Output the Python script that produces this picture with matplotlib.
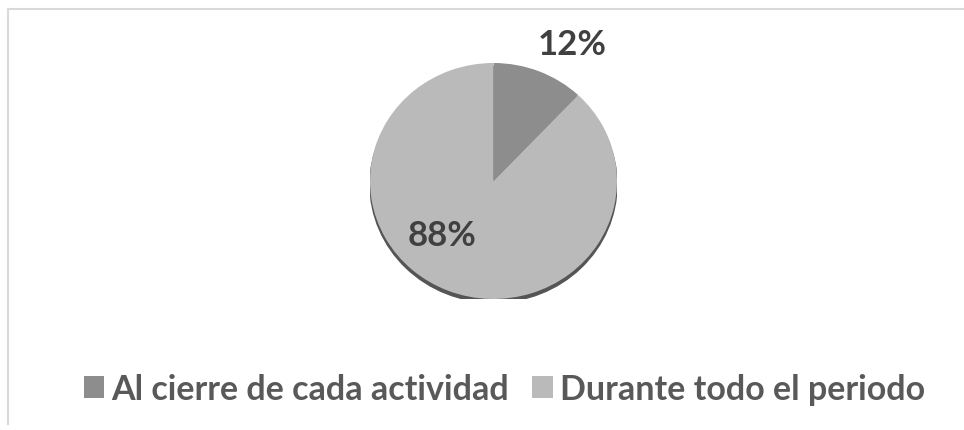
import matplotlib.pyplot as plt
from matplotlib.patches import Ellipse

plt.rcParams["font.family"] = ["Lato", "DejaVu Sans"]

labels = ["Al cierre de cada actividad", "Durante todo el periodo"]
shares = [12, 88]
colors = ["#8d8d8d", "#bababa"]

W, H = 964, 431
fig = plt.figure(figsize=(W / 100, H / 100), dpi=100)

# frame lines like the original chart box
frame = fig.add_axes([0, 0, 1, 1])
frame.set_xlim(0, W)
frame.set_ylim(H, 0)
frame.axis("off")
frame.plot([8, 8, W], [425, 9.5, 9.5], color="#d9d9d9", lw=1.5)

# pie box in pixels: left, top, width, height
px, py, pw, ph = 370, 64, 247, 236
ax = fig.add_axes([px / W, 1 - (py + ph) / H, pw / W, ph / H])

# bottom shadow rim
ax.add_patch(Ellipse((0, -0.03), 2.0, 2.0, color="#555555", zorder=0))

wedges, _ = ax.pie(shares, colors=colors, startangle=90, counterclock=False,
                   radius=1, wedgeprops=dict(linewidth=0))
for w in wedges:
    w.set_zorder(1)
ax.set_aspect("auto")
ax.set_xlim(-1, 1)
ax.set_ylim(-1, 1)
ax.axis("off")

ax.text(0.64, 1.16, f"{shares[0]}%", ha="center", va="center",
        fontsize=25, fontweight="bold", color="#404040", clip_on=False)
ax.text(-0.42, -0.46, f"{shares[1]}%", ha="center", va="center",
        fontsize=25, fontweight="bold", color="#404040")

fig.legend(wedges, labels, loc="center", bbox_to_anchor=(0.523, 0.095),
           ncol=2, frameon=False, handlelength=0.6,
           handleheight=0.6, handletextpad=0.2, columnspacing=0.7,
           labelcolor="#595959", prop=dict(weight="bold", size=24.5))

fig.savefig("out.png", dpi=100)
